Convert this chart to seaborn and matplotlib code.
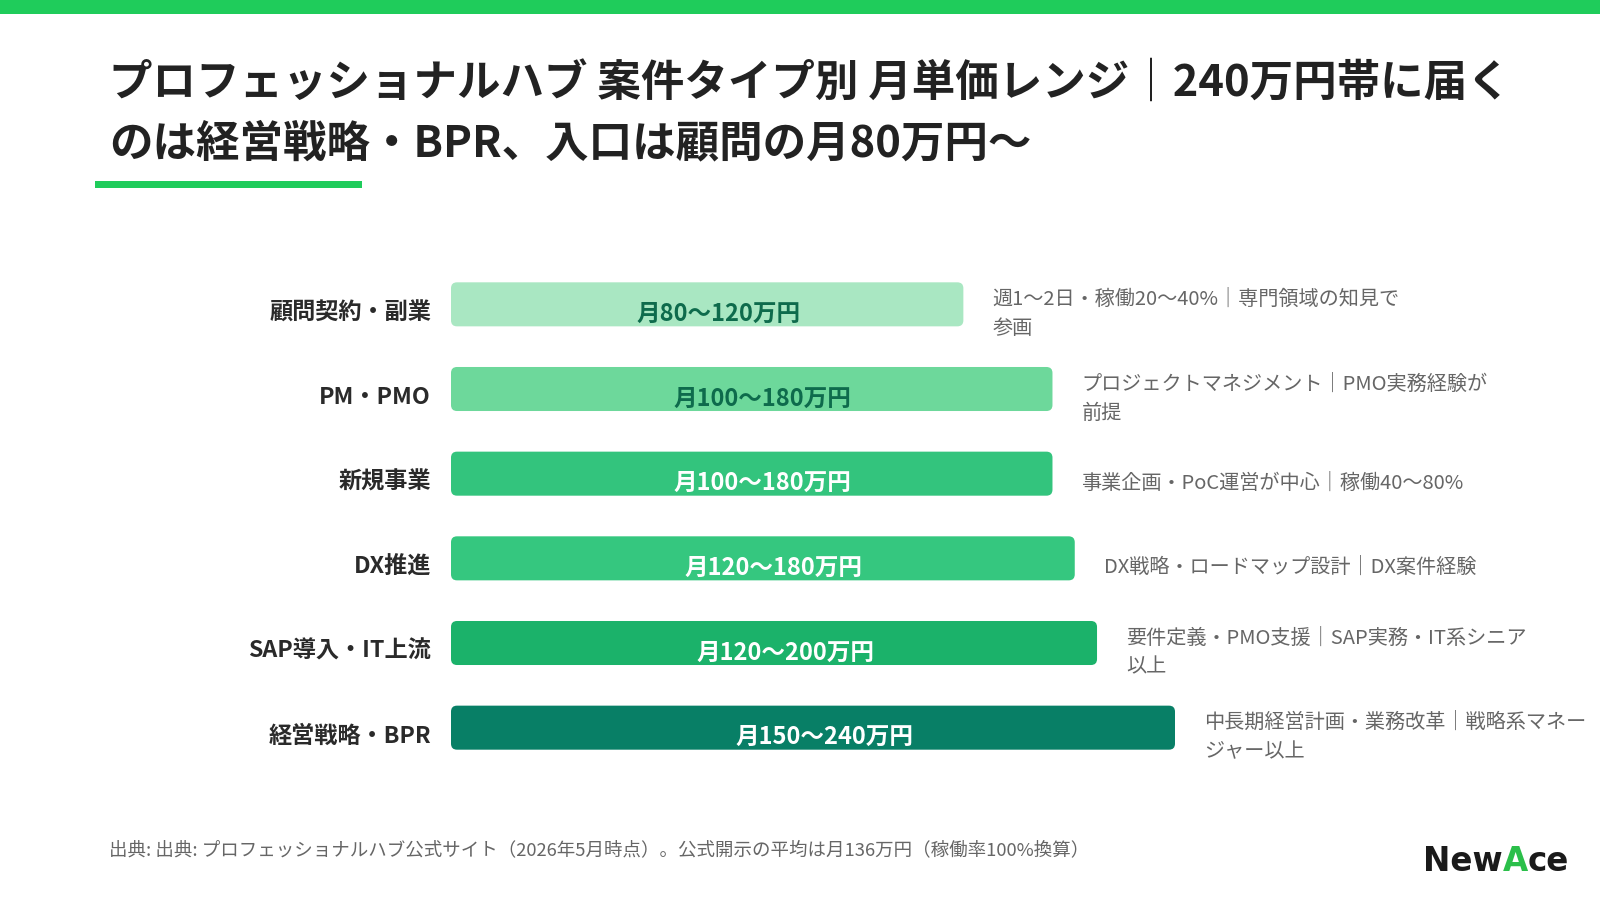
import matplotlib.pyplot as plt
import pandas as pd
import seaborn as sns
from matplotlib.patches import FancyBboxPatch, Rectangle

categories = ['顧問契約・副業', 'PM・PMO', '新規事業', 'DX推進', 'SAP導入・IT上流', '経営戦略・BPR']
low = [80, 100, 100, 120, 120, 150]
high = [120, 180, 180, 180, 200, 240]
notes = ['週1〜2日・稼働20〜40%｜専門領域の知見で\n参画',
         'プロジェクトマネジメント｜PMO実務経験が\n前提',
         '事業企画・PoC運営が中心｜稼働40〜80%',
         'DX戦略・ロードマップ設計｜DX案件経験',
         '要件定義・PMO支援｜SAP実務・IT系シニア\n以上',
         '中長期経営計画・業務改革｜戦略系マネー\nジャー以上']
bar_colors = ['#a9e7c2', '#6dd89b', '#33c47d', '#35c77f', '#1bb26a', '#087f66']
text_colors = ['#0e6b4c', '#0e6b4c', '#ffffff', '#ffffff', '#ffffff', '#ffffff']

title_1 = 'プロフェッショナルハブ 案件タイプ別 月単価レンジ｜240万円帯に届く'
title_2 = 'のは経営戦略・BPR、入口は顧問の月80万円〜'
source = '出典: 出典: プロフェッショナルハブ公式サイト（2026年5月時点）。公式開示の平均は月136万円（稼働率100%換算）'

GREEN = '#1fcc5b'
BASE = -130  # bar length scale starts below zero so short ranges stay visible

sns.set_style('white')
plt.rcParams['font.family'] = ['Noto Sans CJK JP', 'DejaVu Sans']

mids = [(a + b) / 2 for a, b in zip(low, high)]
df = pd.DataFrame({'cat': categories, 'length': [m - BASE for m in mids]})

W, H = 1600, 903
fig = plt.figure(figsize=(16, 9.03), dpi=100)
fig.patch.set_facecolor('white')

# top band and title underline
fig.add_artist(Rectangle((0, 1 - 15 / H), 1, 15 / H, transform=fig.transFigure, color=GREEN, lw=0))
fig.add_artist(Rectangle((95 / W, 1 - 189 / H), 267 / W, 7 / H, transform=fig.transFigure, color=GREEN, lw=0))

fig.text(109 / W, 1 - 83 / H, title_1, fontsize=31.3, fontweight='bold', color='#222222', va='center')
fig.text(109 / W, 1 - 143 / H, title_2, fontsize=31.3, fontweight='bold', color='#222222', va='center')

ax = fig.add_axes([451 / W, 1 - 771 / H, 724 / W, 508 / H])
sns.barplot(data=df, x='length', y='cat', hue='cat', palette=bar_colors, legend=False,
            width=0.52, saturation=1, ax=ax)
ax.set_xlim(0, 195 - BASE)
ax.set_ylim(len(categories) - 0.5, -0.5)

# rounded corners
px_x = (195 - BASE) / 724
px_y = len(categories) / 508
for p in list(ax.patches):
    x, y, w, h = p.get_x(), p.get_y(), p.get_width(), p.get_height()
    fc = p.get_facecolor()
    p.remove()
    ax.add_patch(FancyBboxPatch((x, y), w, h, boxstyle=f'round,pad=0,rounding_size={6 * px_x}',
                                mutation_aspect=px_y / px_x, fc=fc, ec='none'))

off = 8.5 * px_y
for i, (lo, hi, m) in enumerate(zip(low, high, mids)):
    ax.text(-20 * px_x, i + off - 1 * px_y, categories[i], ha='right', va='center',
            fontsize=16.7, fontweight='bold', color='#2a2a2a')
    ax.text((m - BASE) / 2 + 11 * px_x, i + off, f'月{lo}〜{hi}万円', ha='center', va='center',
            fontsize=17, fontweight='bold', color=text_colors[i])
    ax.text(m - BASE + 29 * px_x, i + off, notes[i], ha='left', va='center',
            fontsize=14.5, color='#666666', linespacing=1.5)

ax.set_xlabel('')
ax.set_ylabel('')
ax.set_xticks([])
ax.set_yticks([])
sns.despine(ax=ax, left=True, bottom=True)

fig.text(109 / W, 1 - 850 / H, source, fontsize=13.3, color='#666666', va='center')

# logo
t1 = fig.text(1423 / W, 1 - 871 / H, 'New', fontsize=23.5, fontweight='bold', color='#1a1a1a',
              va='baseline', family='DejaVu Sans')
ann = plt.annotate('A', xy=(1, 0), xycoords=t1, va='bottom', fontsize=23.5, fontweight='bold',
                   color='#2bbf4a', family='DejaVu Sans', annotation_clip=False)
plt.annotate('ce', xy=(1, 0), xycoords=ann, va='bottom', fontsize=23.5, fontweight='bold',
             color='#1a1a1a', family='DejaVu Sans', annotation_clip=False)

fig.savefig('out.png', dpi=100, facecolor='white')
